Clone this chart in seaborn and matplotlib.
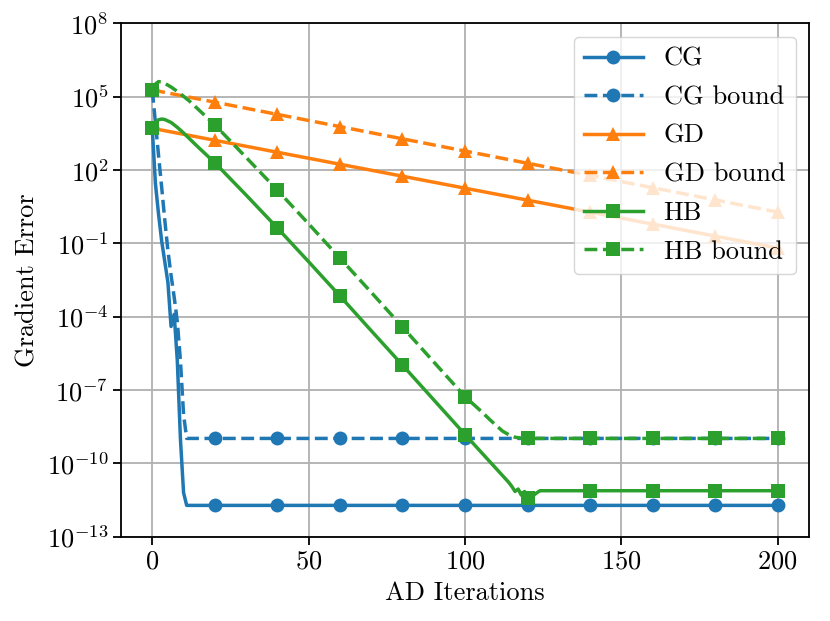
import matplotlib
matplotlib.use("Agg")
import matplotlib.pyplot as plt
import numpy as np
import seaborn as sns

# values (log10 of gradient error)
cg_x = [0, 1, 2, 3, 4, 5, 6, 7, 8, 9, 10, 11, 20, 40, 60, 80, 100, 120, 140, 160, 180, 200]
cg_log = [3.71, 1.45, 0.2, -0.9, -1.75, -2.6, -4.4, -3.9, -5.8, -9.0, -11.2, -11.72,
          -11.72, -11.72, -11.72, -11.72, -11.72, -11.72, -11.72, -11.72, -11.72, -11.72]

cgb_x = [0, 1, 2, 3, 4, 5, 6, 7, 8, 9, 10, 11, 20, 40, 60, 80, 100, 120, 140, 160, 180, 200]
cgb_log = [5.28, 3.95, 2.6, 1.3, -0.05, -1.3, -2.3, -3.2, -4.2, -5.8, -8.0, -8.98,
           -8.98, -8.98, -8.98, -8.98, -8.98, -8.98, -8.98, -8.98, -8.98, -8.98]

gd_x = [0, 20, 40, 60, 80, 100, 120, 140, 160, 180, 200]
gd_log = [3.71, 3.22, 2.73, 2.24, 1.75, 1.26, 0.77, 0.28, -0.21, -0.70, -1.19]

gdb_x = [0, 20, 40, 60, 80, 100, 120, 140, 160, 180, 200]
gdb_log = [5.28, 4.78, 4.28, 3.78, 3.28, 2.78, 2.28, 1.78, 1.28, 0.78, 0.28]

hb_x = [0, 1, 2, 3, 4, 6, 8, 10, 12, 15, 20, 30, 40, 50, 60, 70, 80, 90, 100, 110,
        114, 115, 116, 117, 118, 119, 120, 121, 122, 123, 124, 140, 160, 180, 200]
hb_log = [3.71, 3.95, 4.06, 4.09, 4.07, 3.95, 3.75, 3.52, 3.27, 2.90, 2.30, 0.98, -0.37,
          -1.75, -3.15, -4.57, -5.98, -7.40, -8.82, -10.22, -10.78, -10.95, -11.15,
          -11.05, -11.3, -11.15, -11.4, -11.25, -11.3, -11.2, -11.12,
          -11.12, -11.12, -11.12, -11.12]

hbb_x = [0, 1, 2, 3, 4, 6, 8, 10, 12, 15, 20, 30, 40, 50, 60, 70, 80, 90, 100, 105,
         108, 110, 112, 114, 116, 118, 120, 140, 160, 180, 200]
hbb_log = [5.28, 5.52, 5.62, 5.61, 5.55, 5.40, 5.22, 5.02, 4.81, 4.45, 3.85, 2.52, 1.18,
           -0.2, -1.60, -3.0, -4.42, -5.85, -7.27, -7.85, -8.22, -8.45, -8.68, -8.83,
           -8.93, -8.97, -8.98, -8.98, -8.98, -8.98, -8.98]

series = [
    ("CG", cg_x, cg_log, "#1f77b4", "-", "o"),
    ("CG bound", cgb_x, cgb_log, "#1f77b4", "--", "o"),
    ("GD", gd_x, gd_log, "#ff7f0e", "-", "^"),
    ("GD bound", gdb_x, gdb_log, "#ff7f0e", "--", "^"),
    ("HB", hb_x, hb_log, "#2ca02c", "-", "s"),
    ("HB bound", hbb_x, hbb_log, "#2ca02c", "--", "s"),
]

plt.rcParams["font.family"] = "serif"
plt.rcParams["font.serif"] = ["cmr10", "DejaVu Serif"]
plt.rcParams["mathtext.fontset"] = "cm"
plt.rcParams["axes.formatter.use_mathtext"] = True
plt.rcParams["font.size"] = 19
plt.rcParams["axes.unicode_minus"] = True

fig = plt.figure(figsize=(8.3, 6.21), dpi=100)
ax = fig.add_axes([0.1458, 0.1358, 0.8289, 0.8264])

for name, xs, ls_, color, style, marker in series:
    xs = np.array(xs)
    ys = 10.0 ** np.array(ls_)
    mask = list(xs % 20 == 0)
    sns.lineplot(x=xs, y=ys, ax=ax, color=color, linestyle=style, marker=marker,
                 markevery=mask, markersize=10, markeredgewidth=0, linewidth=2.5,
                 label=name, errorbar=None, sort=False)

ax.set_yscale("log")
ax.set_xlim(-10, 210)
ax.set_ylim(1e-13, 1e8)
ax.set_yticks([1e8, 1e5, 1e2, 1e-1, 1e-4, 1e-7, 1e-10, 1e-13])
ax.minorticks_off()
ax.set_xticks([0, 50, 100, 150, 200])
ax.grid(True, color="#b0b0b0", linewidth=1.3)
ax.tick_params(length=5.6, width=1.3)
for sp in ax.spines.values():
    sp.set_linewidth(1.3)
ax.set_xlabel("AD Iterations", labelpad=6)
ax.set_ylabel("Gradient Error", labelpad=5)
ax.legend(loc="upper right", fontsize=19, handlelength=2.2, labelspacing=0.56)

fig.savefig("out.png", dpi=100)
